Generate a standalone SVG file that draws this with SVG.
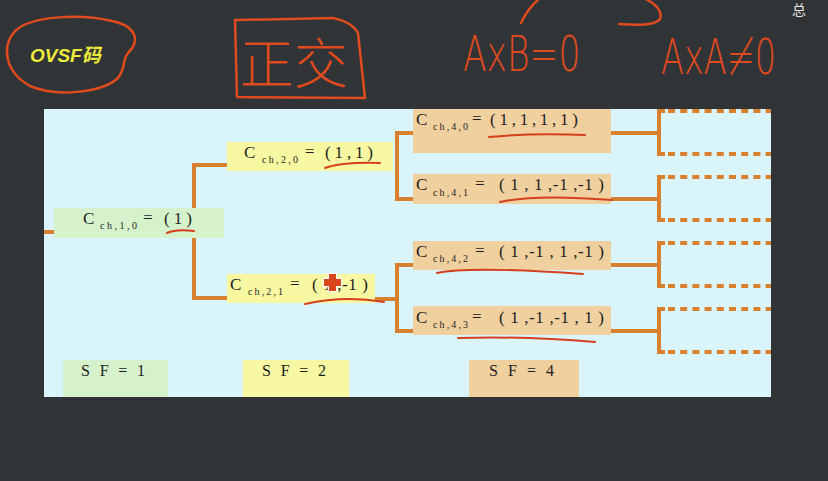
<svg xmlns="http://www.w3.org/2000/svg" width="828" height="481" viewBox="0 0 828 481">
<style>
.bg{fill:#303437}
.panel{fill:#d9f4fb}
.green{fill:#d6f2cc}
.yellow{fill:#f8f8a2}
.tan{fill:#efd09e}
.conn{fill:none;stroke:#d8802e;stroke-width:4}
.dash{fill:none;stroke:#d8802e;stroke-width:4;stroke-dasharray:7 5.2}
.ink{fill:none;stroke:#d4401c;stroke-width:2;stroke-linecap:round}
.hand{fill:none;stroke:#e04a1f;stroke-width:2.5;stroke-linecap:round;stroke-linejoin:round}
.t{font-family:"Liberation Serif","Times New Roman",serif;fill:#1e1e1e}
.big{font-size:17px}
.sub{font-size:10px}
.sf{font-size:16px}
.hw{font-family:"DejaVu Sans","Liberation Sans",sans-serif;font-weight:200;fill:#e04a1f;font-size:50px}
</style>
<rect class="bg" x="0" y="0" width="828" height="481"/>
<text x="792" y="15" style="font-family:'Noto Sans CJK SC',sans-serif;font-size:14px;fill:#e6e6e6">总</text>

<g id="annotations">
  <path class="hand" d="M128,53 C141,40 136,26 112,21 C82,14 32,15 15,31 C1,47 5,72 30,86 C55,97 100,93 117,79 C126,70 122,60 128,53"/>
  <text x="30" y="62" style="font-family:'Liberation Sans','Noto Sans CJK SC',sans-serif;font-weight:bold;font-style:italic;font-size:19px;fill:#ecea3a">OVSF码</text>
  <path class="hand" d="M236,20 L333,18 Q352,22 358,33 L365,98 L237,97 L235,20"/>
  <text x="240" y="84" style="font-family:'Noto Sans CJK SC',sans-serif;font-weight:300;font-size:54px;fill:#e04a1f">正交</text>
  <text class="hw" transform="translate(463,71) scale(0.69,1)" x="0" y="0">AxB=0</text>
  <text class="hw" transform="translate(661,74) scale(0.67,1)" x="0" y="0">AxA≠0</text>
  <path class="hand" d="M521,23 Q528,8 540,-2"/>
  <path class="hand" d="M644,-2 Q664,8 660,19 Q654,27 619,24"/>
</g>

<rect class="panel" x="44" y="109" width="727" height="288"/>

<g id="connectors">
  <line class="conn" x1="44" y1="232" x2="54" y2="232"/>
  <path class="conn" d="M227,165 H194 V298 H227"/>
  <path class="conn" d="M413,133 H397 V199 H413"/>
  <path class="conn" d="M413,265 H397 V331 H413 M375,299 H397"/>
  <path class="conn" d="M611,133 H659 M611,199 H659 M611,265 H659 M611,331 H659"/>
  <path class="conn" d="M665,111 H659 V154 H665 M665,177 H659 V220 H665 M665,243 H659 V286 H665 M665,309 H659 V352 H665"/>
  <path class="dash" d="M668,111 H771 M668,154 H771 M668,177 H771 M668,220 H771 M668,243 H771 M668,286 H771 M668,309 H771 M668,352 H771"/>
</g>

<g id="n10">
  <rect class="green" x="54" y="208" width="170" height="30"/>
  <text class="t big" x="83" y="224">C</text>
  <text class="t sub" x="100" y="229" textLength="37">c h , 1 , 0</text>
  <text class="t big" x="143" y="223">=</text>
  <text class="t big" x="164" y="224" textLength="28">( 1 )</text>
  <path class="ink" d="M167,233 Q176,229 194,231"/>
</g>
<g id="n20">
  <rect class="yellow" x="227" y="142" width="166" height="29"/>
  <text class="t big" x="244" y="158">C</text>
  <text class="t sub" x="262" y="163" textLength="36">c h , 2 , 0</text>
  <text class="t big" x="305" y="157">=</text>
  <text class="t big" x="325" y="158" textLength="48">( 1 , 1 )</text>
  <path class="ink" d="M325,168 Q342,162 380,163"/>
</g>
<g id="n21">
  <rect class="yellow" x="227" y="274" width="148" height="29"/>
  <text class="t big" x="230" y="290">C</text>
  <text class="t sub" x="248" y="295" textLength="35">c h , 2 , 1</text>
  <text class="t big" x="290" y="289">=</text>
  <text class="t big" x="312" y="290" textLength="56">( 1 ,-1 )</text>
  <path class="ink" d="M305,304 Q345,295 384,302"/>
  <path d="M329,274 h7 v5 h5 v7 h-5 v5 h-7 v-5 h-5 v-7 h5 z" fill="#d9461c" stroke="#ffffff" stroke-width="2.5" paint-order="stroke"/>
</g>
<g id="n40">
  <rect class="tan" x="413" y="109" width="198" height="44"/>
  <text class="t big" x="416" y="125">C</text>
  <text class="t sub" x="433" y="130" textLength="35">c h , 4 , 0</text>
  <text class="t big" x="472" y="124">=</text>
  <text class="t big" x="490" y="125" textLength="88">( 1 , 1 , 1 , 1 )</text>
  <path class="ink" d="M489,137 Q530,133 585,135"/>
</g>
<g id="n41">
  <rect class="tan" x="413" y="174" width="198" height="30"/>
  <text class="t big" x="416" y="190">C</text>
  <text class="t sub" x="433" y="196" textLength="35">c h , 4 , 1</text>
  <text class="t big" x="475" y="189">=</text>
  <text class="t big" x="499" y="190" textLength="105">( 1 , 1 ,-1 ,-1 )</text>
  <path class="ink" d="M500,202 Q535,194 612,200"/>
</g>
<g id="n42">
  <rect class="tan" x="413" y="241" width="198" height="29"/>
  <text class="t big" x="416" y="257">C</text>
  <text class="t sub" x="433" y="262" textLength="35">c h , 4 , 2</text>
  <text class="t big" x="475" y="256">=</text>
  <text class="t big" x="499" y="257" textLength="105">( 1 ,-1 , 1 ,-1 )</text>
  <path class="ink" d="M437,273 Q470,266 583,274"/>
</g>
<g id="n43">
  <rect class="tan" x="413" y="306" width="198" height="29"/>
  <text class="t big" x="416" y="323">C</text>
  <text class="t sub" x="433" y="328" textLength="35">c h , 4 , 3</text>
  <text class="t big" x="472" y="322">=</text>
  <text class="t big" x="499" y="323" textLength="105">( 1 ,-1 ,-1 , 1 )</text>
  <path class="ink" d="M458,338 Q525,336 595,342"/>
</g>

<g id="sf1">
  <rect class="green" x="63" y="360" width="105" height="37"/>
  <text class="t sf" x="81" y="376" textLength="64">S F  =  1</text>
</g>
<g id="sf2">
  <rect class="yellow" x="243" y="360" width="106" height="37"/>
  <text class="t sf" x="262" y="376" textLength="64">S F  =  2</text>
</g>
<g id="sf4">
  <rect class="tan" x="469" y="360" width="110" height="37"/>
  <text class="t sf" x="489" y="376" textLength="65">S F  =  4</text>
</g>
</svg>
